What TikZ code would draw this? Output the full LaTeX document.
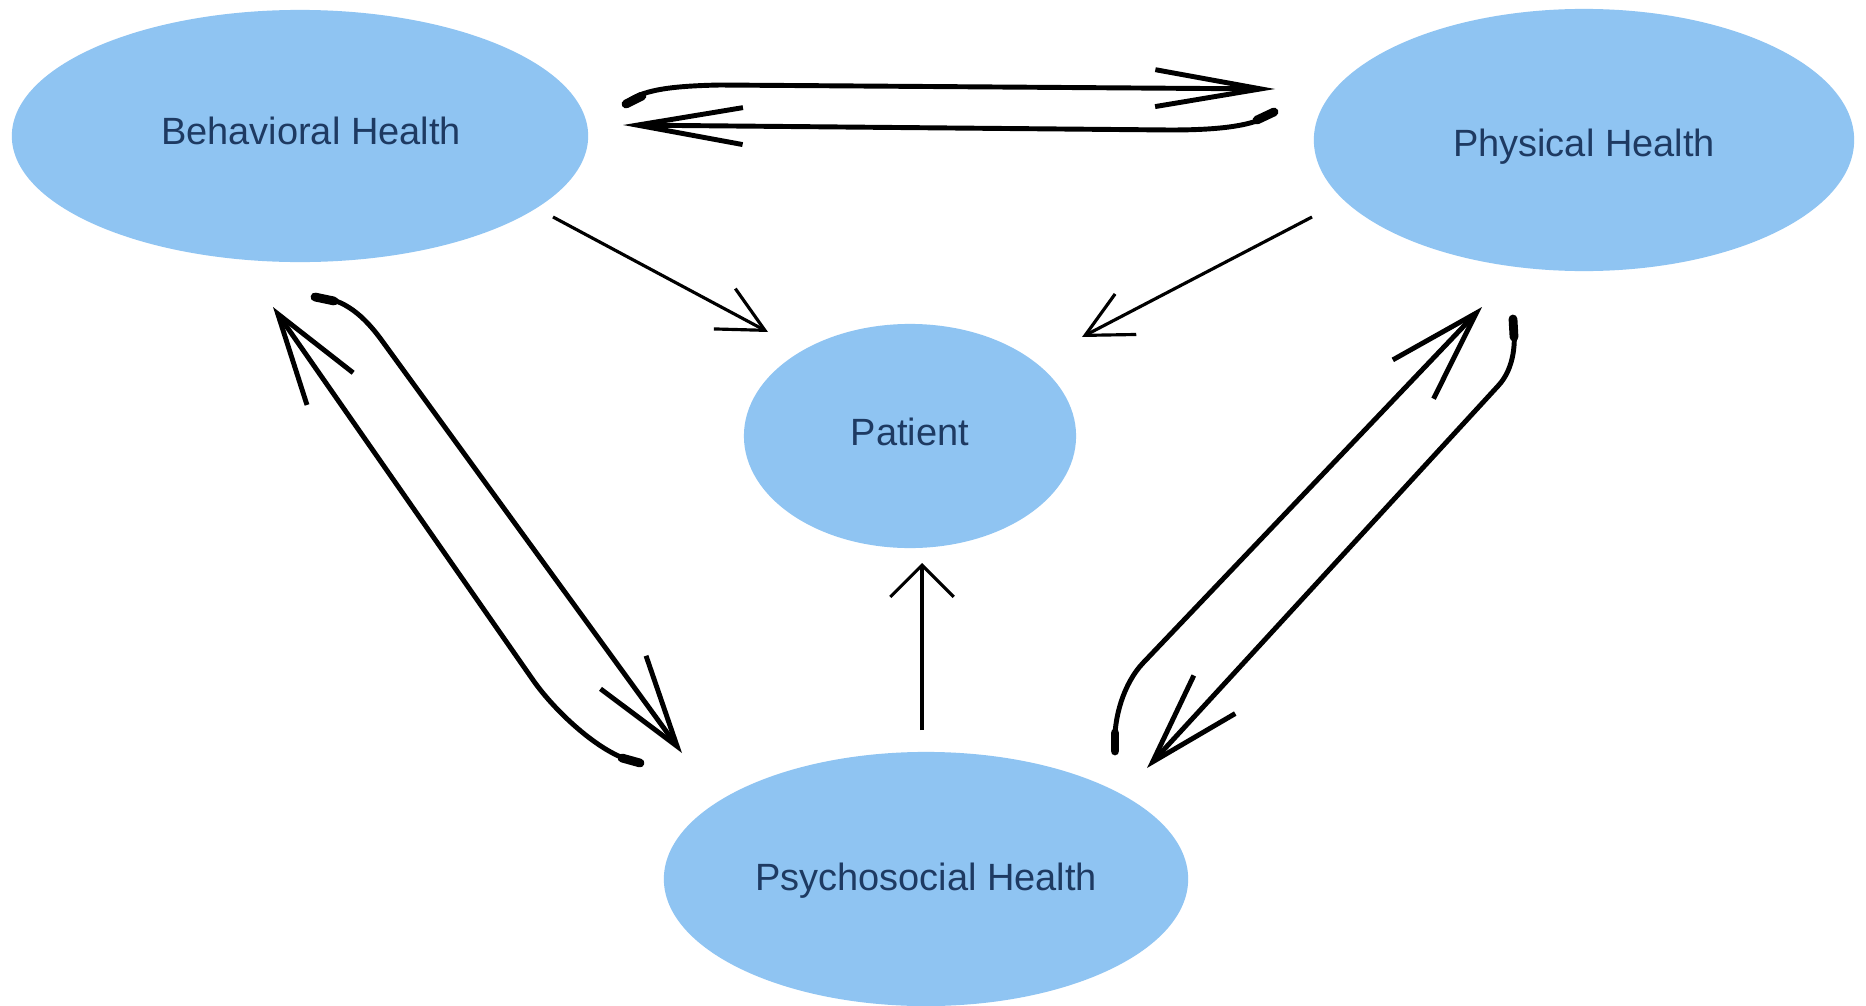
\documentclass[tikz,border=0pt]{standalone}
\usepackage{fontspec}
\setmainfont{Liberation Sans}
\usetikzlibrary{shapes.geometric,arrows.meta}
\definecolor{bubblefill}{RGB}{143,196,242}
\definecolor{labelc}{RGB}{30,58,98}
\newcommand{\shifttext}[3]{\raisebox{#2}[\height][\depth]{\hspace*{#1}#3}}
\begin{document}
\begin{tikzpicture}[x=0.01cm,y=-0.01cm,
  bubble/.style={ellipse, fill=bubblefill, inner sep=0pt, text=labelc,
    font=\fontsize{10.8}{13}\selectfont},
  thickarr/.style={line width=1.4pt, line cap=round,
    -{Straight Barb[length=26pt,width=16pt,line width=1.4pt]}},
  longarr/.style={line width=1.4pt, line cap=round,
    -{Straight Barb[length=30pt,width=10.5pt,line width=1.4pt]}},
  thinarr/.style={line width=0.9pt,
    -{Straight Barb[length=13pt,width=13pt,line width=0.9pt]}},
  uparr/.style={line width=0.9pt,
    -{Straight Barb[length=9pt,width=18pt,line width=0.9pt]}},
  blob/.style={line width=2.5pt, line cap=round}]
\useasboundingbox (0,0) rectangle (1866,1006);
\fill[white] (0,0) rectangle (1866,1006);

% nodes
\node[bubble, minimum width=5.76cm, minimum height=2.52cm] (bh)  at (300,136)
  {\shifttext{0.22cm}{0.05cm}{Behavioral Health}};
\node[bubble, minimum width=5.40cm, minimum height=2.62cm] (ph)  at (1584,140)
  {\shifttext{0cm}{-0.07cm}{Physical Health}};
\node[bubble, minimum width=3.32cm, minimum height=2.24cm] (pat) at (910,436)
  {\shifttext{0cm}{0.04cm}{Patient}};
\node[bubble, minimum width=5.24cm, minimum height=2.54cm] (psy) at (926,879)
  {\shifttext{0cm}{-0.02cm}{Psychosocial Health}};

% connector end points
\coordinate (t1s) at (625,104);  \coordinate (t1e) at (1275,89);
\coordinate (t2s) at (1275,112); \coordinate (t2e) at (623,125);
\coordinate (l1s) at (638,762);  \coordinate (l1e) at (273,307);
\coordinate (l2s) at (316,297);  \coordinate (l2e) at (682,753);
\coordinate (r1s) at (1115,748); \coordinate (r1e) at (1482,307);
\coordinate (r2s) at (1513,322); \coordinate (r2e) at (1147,768);
\coordinate (a1s) at (553,217);  \coordinate (a1e) at (768,332);
\coordinate (a2s) at (1312,217); \coordinate (a2e) at (1082,337);
\coordinate (a3s) at (922,730);  \coordinate (a3e) at (922,563);

% Behavioral <-> Physical
\draw[longarr] (t1s) .. controls (640,90) and (670,86) .. (720,85) -- (t1e);
\draw[blob] (626,104) -- (642,96);
\draw[longarr] (t2s) .. controls (1258,124) and (1230,130) .. (1170,130) -- (t2e);
\draw[blob] (1274,112) -- (1257,120);

% Behavioral <-> Psychosocial
\draw[thickarr] (l1s) .. controls (605,758) and (556,713) .. (533,680) -- (l1e);
\draw[blob] (640,763) -- (622,758);
\draw[thickarr] (l2s) .. controls (345,298) and (365,318) .. (380,338) -- (l2e);
\draw[blob] (315,297) -- (334,301);

% Physical <-> Psychosocial
\draw[thickarr] (r1s) .. controls (1113,718) and (1124,683) .. (1143,663) -- (r1e);
\draw[blob] (1115,751) -- (1115,733);
\draw[thickarr] (r2s) .. controls (1516,340) and (1515,368) .. (1498,386) -- (r2e);
\draw[blob] (1513,319) -- (1514,337);

% to Patient
\draw[thinarr] (a1s) -- (a1e);
\draw[thinarr] (a2s) -- (a2e);
\draw[uparr] (a3s) -- (a3e);
\end{tikzpicture}
\end{document}
